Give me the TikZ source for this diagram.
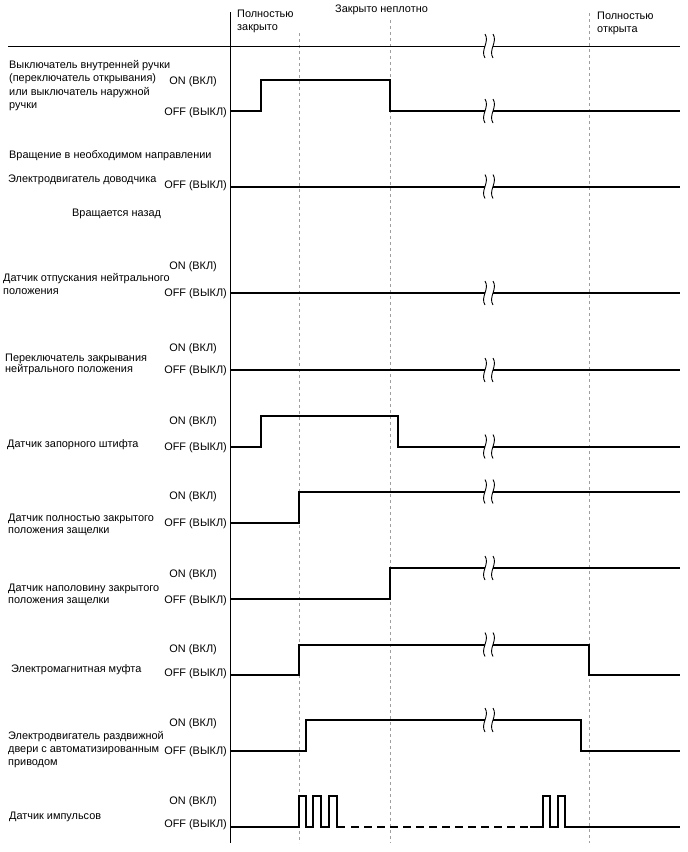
\documentclass[tikz,border=0pt]{standalone}
\usepackage{fontspec}
\setmainfont{Liberation Sans}
\newcommand\breakmark[2]{%
  \fill[white] (485,#2-1.6) rectangle (493,#2+1.6);
  \draw[brk] (#1-4,#2-12) .. controls (#1+1,#2-4) and (#1-9,#2+4) .. (#1-4,#2+12);
  \draw[brk] (#1+4,#2-12) .. controls (#1+9,#2-4) and (#1-1,#2+4) .. (#1+4,#2+12);}
\begin{document}
\begin{tikzpicture}[x=1pt,y=-1pt,
  txt/.style={font=\fontsize{10.9}{12}\selectfont, inner sep=0pt},
  lbl/.style={txt, anchor=base west},
  lvl/.style={txt, anchor=base east},
  axisline/.style={line width=1.2pt},
  gridline/.style={line width=1pt, gray!75, dash pattern=on 3pt off 3pt},
  trace/.style={line width=2pt, line join=miter},
  brk/.style={line width=0.9pt}]
\useasboundingbox (0,0) rectangle (688,852);
\fill[white] (0,0) rectangle (688,852);

% grid lines
\draw[gridline] (299,33) -- (299,843);
\draw[gridline] (390,20) -- (390,843);
\draw[gridline] (589,13) -- (589,843);
% axes
\draw[axisline] (230.5,12) -- (230.5,843);
\draw[line width=1pt] (8,46) -- (680,46);
\breakmark{489}{46}

% header labels
\node[lbl] (h1a) at (237,17) {Полностью};
\node[lbl] (h1b) at (237,30) {закрыто};
\node[lbl] (h2) at (335,12) {Закрыто неплотно};
\node[lbl] (h3a) at (597,19) {Полностью};
\node[lbl] (h3b) at (597,32) {открыта};

% Row 1
\node[lbl] (r1a) at (9,68) {Выключатель внутренней ручки};
\node[lbl] (r1b) at (9,81.5) {(переключатель открывания)};
\node[lbl] (r1c) at (9,95) {или выключатель наружной};
\node[lbl] (r1d) at (9,108.5) {ручки};
\node[lvl] (r1on) at (217,84) {ON (ВКЛ)};
\node[lvl] (r1off) at (227,115) {OFF (ВЫКЛ)};
\draw[trace] (230.5,111) -- (261,111) -- (261,79.5) -- (390,79.5) -- (390,111) -- (680,111);
\breakmark{489}{111}

% Row 2
\node[lbl] (r2a) at (9,158) {Вращение в необходимом направлении};
\node[lbl] (r2b) at (8,182) {Электродвигатель доводчика};
\node[lvl] (r2off) at (227,188) {OFF (ВЫКЛ)};
\node[lbl] (r2c) at (72,216) {Вращается назад};
\draw[trace] (230.5,186.5) -- (680,186.5);
\breakmark{489}{186.5}

% Row 3
\node[lvl] (r3on) at (217,269) {ON (ВКЛ)};
\node[lbl] (r3a) at (3,281) {Датчик отпускания нейтрального};
\node[lbl] (r3b) at (3,294) {положения};
\node[lvl] (r3off) at (227,296) {OFF (ВЫКЛ)};
\draw[trace] (230.5,293) -- (680,293);
\breakmark{489}{293}

% Row 4
\node[lvl] (r4on) at (217,351) {ON (ВКЛ)};
\node[lbl] (r4a) at (5,361) {Переключатель закрывания};
\node[lbl] (r4b) at (5,372) {нейтрального положения};
\node[lvl] (r4off) at (227,373) {OFF (ВЫКЛ)};
\draw[trace] (230.5,370) -- (680,370);
\breakmark{489}{370}

% Row 5
\node[lvl] (r5on) at (217,424) {ON (ВКЛ)};
\node[lbl] (r5a) at (7,447) {Датчик запорного штифта};
\node[lvl] (r5off) at (227,450) {OFF (ВЫКЛ)};
\draw[trace] (230.5,446.5) -- (261,446.5) -- (261,415.5) -- (398,415.5) -- (398,446.5) -- (680,446.5);
\breakmark{489}{446.5}

% Row 6
\node[lvl] (r6on) at (217,499) {ON (ВКЛ)};
\node[lbl] (r6a) at (8,521) {Датчик полностью закрытого};
\node[lbl] (r6b) at (8,533) {положения защелки};
\node[lvl] (r6off) at (227,526) {OFF (ВЫКЛ)};
\draw[trace] (230.5,522.5) -- (299,522.5) -- (299,491.5) -- (680,491.5);
\breakmark{489}{491.5}

% Row 7
\node[lvl] (r7on) at (217,577) {ON (ВКЛ)};
\node[lbl] (r7a) at (8,591) {Датчик наполовину закрытого};
\node[lbl] (r7b) at (8,603) {положения защелки};
\node[lvl] (r7off) at (227,603) {OFF (ВЫКЛ)};
\draw[trace] (230.5,599) -- (390,599) -- (390,568) -- (680,568);
\breakmark{489}{568}

% Row 8
\node[lvl] (r8on) at (217,652) {ON (ВКЛ)};
\node[lbl] (r8a) at (11,672) {Электромагнитная муфта};
\node[lvl] (r8off) at (227,676) {OFF (ВЫКЛ)};
\draw[trace] (230.5,674.5) -- (299,674.5) -- (299,644.5) -- (589,644.5) -- (589,674.5) -- (680,674.5);
\breakmark{489}{644.5}

% Row 9
\node[lvl] (r9on) at (217,726) {ON (ВКЛ)};
\node[lbl] (r9a) at (8,739) {Электродвигатель раздвижной};
\node[lbl] (r9b) at (8,752) {двери с автоматизированным};
\node[lbl] (r9c) at (8,765) {приводом};
\node[lvl] (r9off) at (227,754) {OFF (ВЫКЛ)};
\draw[trace] (230.5,750.5) -- (306,750.5) -- (306,720) -- (581,720) -- (581,750.5) -- (680,750.5);
\breakmark{489}{720}

% Row 10
\node[lvl] (r10on) at (217,804) {ON (ВКЛ)};
\node[lbl] (r10a) at (9,819) {Датчик импульсов};
\node[lvl] (r10off) at (227,827) {OFF (ВЫКЛ)};
\draw[trace] (230.5,826.5) -- (299,826.5) -- (299,796) -- (306,796) -- (306,826.5)
  -- (313,826.5) -- (313,796) -- (321,796) -- (321,826.5)
  -- (329,826.5) -- (329,796) -- (337,796) -- (337,826.5) -- (345,826.5);
\draw[line width=2pt, dash pattern=on 8pt off 5pt] (351,826.5) -- (530,826.5);
\draw[trace] (530,826.5) -- (543,826.5) -- (543,796) -- (550,796) -- (550,826.5)
  -- (558,826.5) -- (558,796) -- (565,796) -- (565,826.5) -- (680,826.5);
\end{tikzpicture}
\end{document}
